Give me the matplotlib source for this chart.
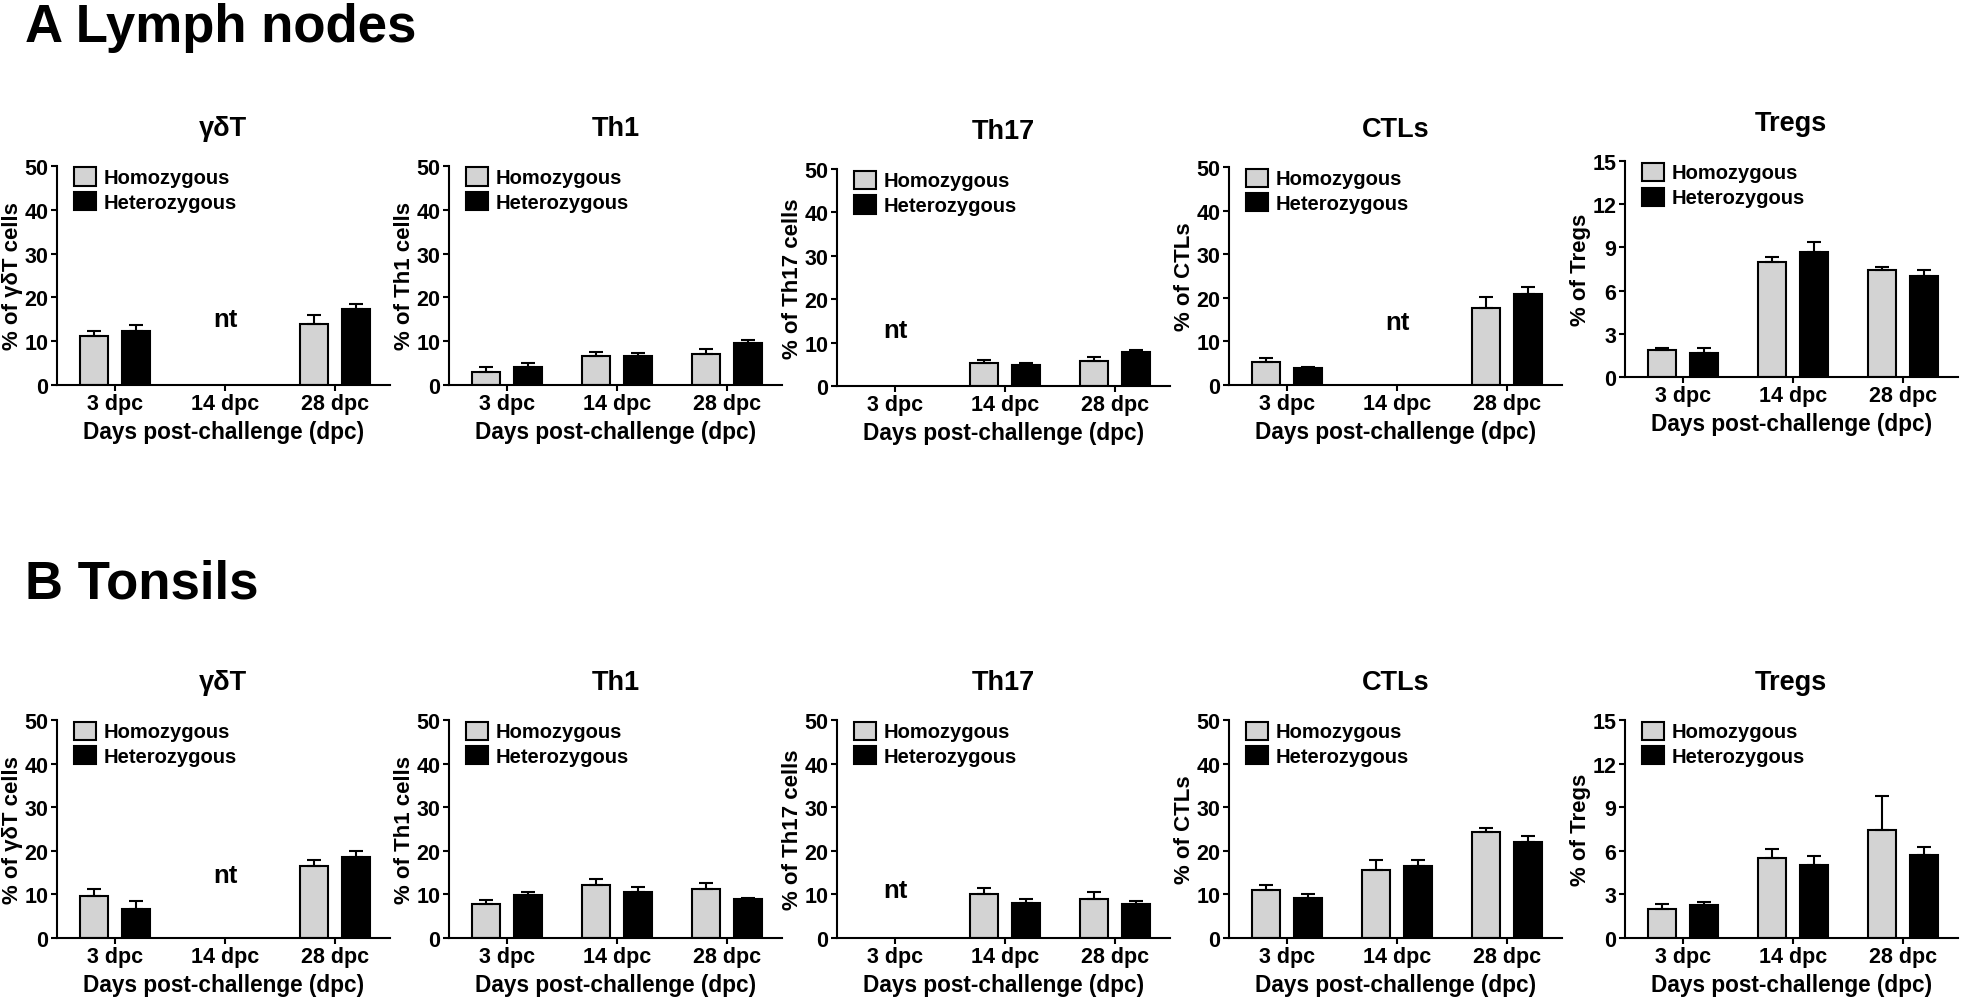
import numpy as np
import matplotlib
matplotlib.use("Agg")
import matplotlib.pyplot as plt

plt.rcParams['font.family'] = ['Liberation Sans', 'DejaVu Sans']
plt.rcParams['font.weight'] = 'bold'
plt.rcParams['axes.labelweight'] = 'bold'
plt.rcParams['axes.titleweight'] = 'bold'

nan = np.nan

days = ['3 dpc', '14 dpc', '28 dpc']
groups = ['Homozygous', 'Heterozygous']
cells = ['γδT', 'Th1', 'Th17', 'CTLs', 'Tregs']
ylabels = ['% of γδT cells', '% of Th1 cells', '% of Th17 cells', '% of CTLs', '% of Tregs']
ymax = [50, 50, 50, 50, 15]
ystep = [10, 10, 10, 10, 3]

# A: lymph nodes (nan = not tested), one row per cell type
ln_homo = [[11.2, nan, 14.0], [3.0, 6.6, 7.1], [nan, 5.2, 5.8], [5.2, nan, 17.7], [1.85, 8.0, 7.45]]
ln_homo_err = [[1.2, 0, 1.9], [1.0, 1.0, 1.1], [0, 0.7, 0.8], [1.0, 0, 2.4], [0.15, 0.3, 0.2]]
ln_het = [[12.3, nan, 17.4], [4.2, 6.7, 9.7], [nan, 4.9, 7.9], [3.8, nan, 20.8], [1.7, 8.65, 7.0]]
ln_het_err = [[1.3, 0, 1.2], [0.8, 0.5, 0.6], [0, 0.3, 0.5], [0.4, 0, 1.6], [0.3, 0.7, 0.45]]
ln_nt = [(1, 15.0), None, (0, 13.0), (1, 14.5), None]

# B: tonsils
to_homo = [[9.6, nan, 16.6], [7.7, 12.1, 11.3], [nan, 10.1, 9.0], [11.0, 15.6, 24.2], [2.0, 5.5, 7.4]]
to_homo_err = [[1.7, 0, 1.2], [1.0, 1.4, 1.4], [0, 1.4, 1.5], [1.1, 2.2, 1.1], [0.35, 0.65, 2.4]]
to_het = [[6.6, nan, 18.6], [9.8, 10.6, 8.9], [nan, 8.1, 7.9], [9.2, 16.6, 22.0], [2.3, 5.0, 5.7]]
to_het_err = [[1.8, 0, 1.4], [0.8, 1.0, 0.3], [0, 0.8, 0.5], [0.9, 1.3, 1.5], [0.2, 0.65, 0.55]]
to_nt = [(1, 14.5), None, (0, 11.0), None, None]

W, H = 1961, 1003
fig = plt.figure(figsize=(W / 100, H / 100), dpi=100)

# panel frames in pixels: first tick x, top, bottom
top_row = [(115, 167, 386), (507, 167, 386), (895, 170, 387), (1287, 168, 386), (1683, 162, 378)]
bot_row = [(115, 721, 939), (507, 721, 939), (895, 721, 939), (1287, 721, 939), (1683, 721, 939)]
step_px = 110
x_left = -0.53


def draw_panel(ax, i, homo, homo_err, het, het_err, nt, width_px):
    x = np.arange(len(days))
    off, bw = 0.19, 0.255
    ax.bar(x - off, homo, bw, color='#d3d3d3', edgecolor='black', linewidth=1.5, label=groups[0], zorder=2)
    ax.bar(x + off, het, bw, color='black', edgecolor='black', linewidth=1.5, label=groups[1], zorder=2)
    ax.errorbar(x - off, homo, yerr=[np.zeros(3), homo_err], fmt='none', ecolor='black',
                elinewidth=1.5, capsize=5, capthick=1.5, zorder=3)
    ax.errorbar(x + off, het, yerr=[np.zeros(3), het_err], fmt='none', ecolor='black',
                elinewidth=1.5, capsize=5, capthick=1.5, zorder=3)
    if nt is not None:
        ax.text(nt[0], nt[1], 'nt', ha='center', va='center', fontsize=18.5, fontweight='bold')
    ax.set_xlim(x_left, 2.5)
    ax.set_ylim(0, ymax[i])
    ax.set_yticks(np.arange(0, ymax[i] + 1, ystep[i]))
    ax.set_xticks(x)
    ax.set_xticklabels(days)
    ax.tick_params(labelsize=15.5, width=1.5, length=4, pad=2)
    for s in ['top', 'right']:
        ax.spines[s].set_visible(False)
    for s in ['left', 'bottom']:
        ax.spines[s].set_linewidth(1.5)
    ax.set_xlabel('Days post-challenge (dpc)', fontsize=16.3, labelpad=4)
    ax.set_ylabel(ylabels[i], fontsize=16)
    # label centre about 44 px left of the y axis
    ax.yaxis.set_label_coords(-44 / width_px, 0.5)
    ax.yaxis.label.set_verticalalignment('center')
    ax.set_title(cells[i], fontsize=19.5, pad=22)
    ax.legend(loc='upper left', frameon=False, fontsize=14.5, handlelength=1.1, handleheight=1.0,
              handletextpad=0.4, labelspacing=0.25, borderaxespad=0.0,
              bbox_to_anchor=(9 / width_px, 1.03))


for i in range(5):
    for rows, homo, homo_err, het, het_err, nts in [
        (top_row, ln_homo, ln_homo_err, ln_het, ln_het_err, ln_nt),
        (bot_row, to_homo, to_homo_err, to_het, to_het_err, to_nt),
    ]:
        tick0, t, b = rows[i]
        left = tick0 + x_left * step_px
        width = (2.5 - x_left) * step_px
        ax = fig.add_axes([left / W, 1 - b / H, width / W, (b - t) / H])
        draw_panel(ax, i, homo[i], homo_err[i], het[i], het_err[i], nts[i], width)

fig.text(25 / W, 1 - 3 / H, 'A Lymph nodes', fontsize=38, fontweight='bold', va='top', ha='left')
fig.text(25 / W, 1 - 560 / H, 'B Tonsils', fontsize=38, fontweight='bold', va='top', ha='left')

fig.savefig('out.png', dpi=100, facecolor='white')
